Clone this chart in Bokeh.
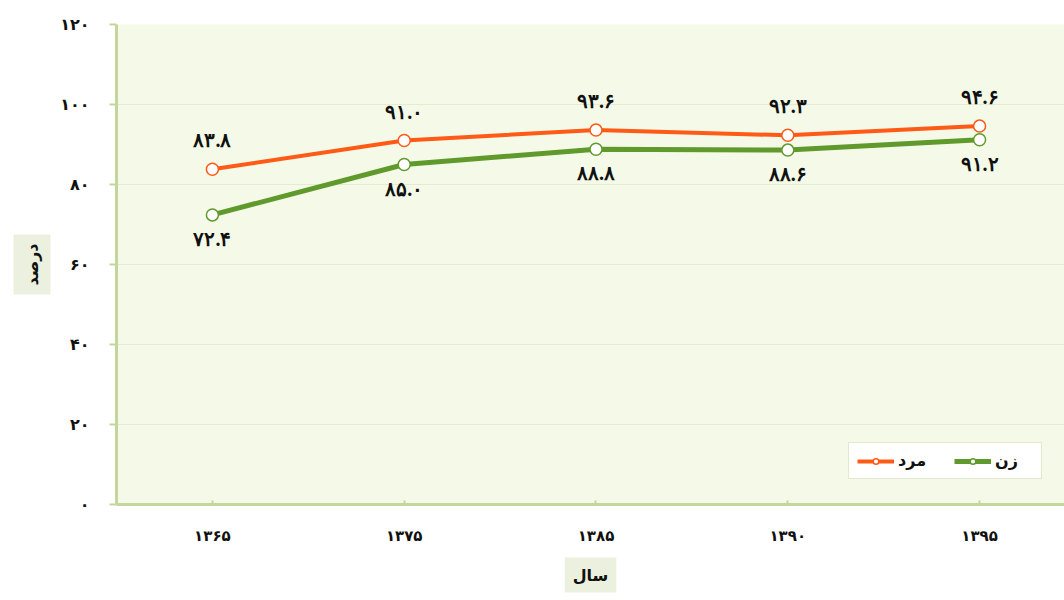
import math
from bokeh.plotting import figure
from bokeh.models import (ColumnDataSource, Range1d, FixedTicker, LabelSet,
                          Legend, LegendItem, Title)
from bokeh.embed import file_html
from bokeh.resources import INLINE

# ---- data ----
years = ["۱۳۶۵", "۱۳۷۵", "۱۳۸۵", "۱۳۹۰", "۱۳۹۵"]
men = [83.8, 91.0, 93.6, 92.3, 94.6]
women = [72.4, 85.0, 88.8, 88.6, 91.2]
men_labels = ["۸۳.۸", "۹۱.۰", "۹۳.۶", "۹۲.۳", "۹۴.۶"]
women_labels = ["۷۲.۴", "۸۵.۰", "۸۸.۸", "۸۸.۶", "۹۱.۲"]
y_ticks = [0, 20, 40, 60, 80, 100, 120]
y_tick_labels = ["۰", "۲۰", "۴۰", "۶۰", "۸۰", "۱۰۰", "۱۲۰"]
series_names = ["مرد", "زن"]
x_title = "سال"
y_title = "درصد"

FONT = "DejaVu Sans"
ORANGE = "#FF5A16"
GREEN = "#619A2C"
AXIS = "#C3D69B"
BG = "#F5FAE8"
GRID = "#E3ECCF"
TITLE_BG = "#EBF1DE"

xs = list(range(len(years)))

src = ColumnDataSource(dict(x=xs, men=men, women=women,
                            ml=men_labels, wl=women_labels))

p = figure(width=1064, height=600, output_backend="svg", toolbar_location=None,
           x_range=Range1d(-0.5, 4.4427), y_range=Range1d(0, 120),
           min_border_left=116, min_border_right=0, min_border_top=24,
           min_border_bottom=96)
p.background_fill_color = BG
p.border_fill_color = "white"
p.outline_line_color = None

# axes
p.xaxis.ticker = FixedTicker(ticks=xs)
p.xaxis.major_label_overrides = {i: t for i, t in zip(xs, years)}
p.yaxis.ticker = FixedTicker(ticks=y_ticks)
p.yaxis.major_label_overrides = {v: t for v, t in zip(y_ticks, y_tick_labels)}
for ax in (p.xaxis, p.yaxis):
    ax.axis_line_color = AXIS
    ax.axis_line_width = 3
    ax.major_tick_line_color = AXIS
    ax.major_tick_line_width = 2
    ax.minor_tick_line_color = None
    ax.major_label_text_font = FONT
    ax.major_label_text_font_style = "bold"
    ax.major_label_text_color = "#111111"
p.xaxis.major_tick_in = 4
p.xaxis.major_tick_out = 0
p.xaxis.major_label_standoff = 22
p.xaxis.major_label_text_font_size = "15px"
p.yaxis.major_tick_in = 0
p.yaxis.major_tick_out = 7
p.yaxis.major_label_standoff = 20
p.yaxis.major_label_text_font_size = "16px"

p.xgrid.grid_line_color = None
p.ygrid.grid_line_color = GRID
p.ygrid.grid_line_width = 1

# axis titles as boxed titles
p.add_layout(Title(text=y_title, align="center", text_font=FONT,
                   text_font_style="bold", text_font_size="16px",
                   text_color="#111111", background_fill_color=TITLE_BG,
                   padding=9, standoff=14), "left")
p.add_layout(Title(text=x_title, align="center", text_font=FONT,
                   text_font_style="bold", text_font_size="16px",
                   text_color="#111111", background_fill_color=TITLE_BG,
                   padding=8, standoff=16), "below")

# series
lm = p.line("x", "men", source=src, line_color=ORANGE, line_width=4)
sm = p.scatter("x", "men", source=src, size=12, fill_color="white",
               line_color=ORANGE, line_width=1.5)
lw = p.line("x", "women", source=src, line_color=GREEN, line_width=5)
sw = p.scatter("x", "women", source=src, size=12, fill_color="white",
               line_color=GREEN, line_width=1.5)

# data labels
p.add_layout(LabelSet(x="x", y="men", text="ml", source=src, y_offset=29,
                      text_align="center", text_baseline="middle",
                      text_font=FONT, text_font_style="bold",
                      text_font_size="20px", text_color="#111111"))
p.add_layout(LabelSet(x="x", y="women", text="wl", source=src, y_offset=-24,
                      text_align="center", text_baseline="middle",
                      text_font=FONT, text_font_style="bold",
                      text_font_size="20px", text_color="#111111"))

# legend
legend = Legend(items=[LegendItem(label=series_names[0], renderers=[lm, sm]),
                       LegendItem(label=series_names[1], renderers=[lw, sw])],
                orientation="horizontal", location=(732, 25),
                border_line_color=AXIS, border_line_width=1.5,
                background_fill_color="white", background_fill_alpha=1,
                glyph_width=37, glyph_height=14, label_standoff=4,
                label_width=38, spacing=18, padding=8, margin=0,
                label_text_font=FONT, label_text_font_style="bold",
                label_text_font_size="16px", label_text_color="#111111")
p.add_layout(legend)

open("out.html", "w").write(file_html(p, INLINE))
